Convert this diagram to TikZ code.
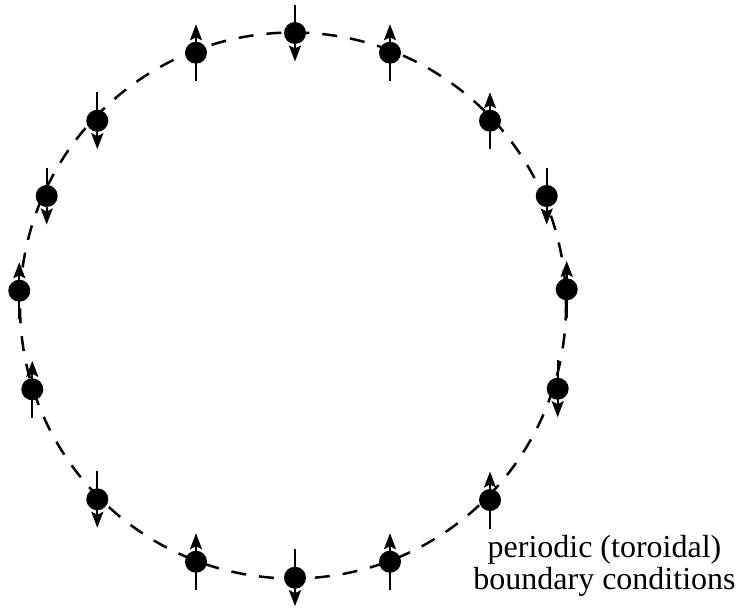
\documentclass[tikz,border=0pt]{standalone}
\usepackage{fontspec}
\setmainfont{Liberation Serif}
\usetikzlibrary{arrows.meta,calc}
\definecolor{ink}{HTML}{000000}
\tikzset{
  >={Stealth[length=16pt,width=12pt,inset=3pt]},
  every picture/.style={line join=round},
  site/.style={circle, fill=ink, draw=none, inner sep=0pt, minimum size=22pt},
  ring/.style={draw=ink, line width=2.5pt, dash pattern=on 15pt off 13pt},
  spin/.style={->, draw=ink, line width=2.2pt},
  lbl/.style={font=\fontsize{32}{32}\selectfont, text=ink, align=center, inner sep=0pt},
}

\begin{document}
\begin{tikzpicture}[x=1pt,y=-1pt]
  \useasboundingbox (0,0) rectangle (741,608);

  % ---------------- the ring ----------------
  \coordinate (c) at (293,305.5);
  \draw[ring] (c) circle[radius=273];

  % ---------------- lattice sites ----------------
  \node[site] (sp1) at (295,33) {};
  \node[site] (sp2) at (390,52.7) {};
  \node[site] (sp3) at (490,120.7) {};
  \node[site] (sp4) at (546.7,196) {};
  \node[site] (sp5) at (566.7,289.3) {};
  \node[site] (sp6) at (557.7,388.7) {};
  \node[site] (sp7) at (490,500) {};
  \node[site] (sp8) at (390,561.7) {};
  \node[site] (sp9) at (295,577.7) {};
  \node[site] (sp10) at (196,561.7) {};
  \node[site] (sp11) at (97.3,499.3) {};
  \node[site] (sp12) at (32.3,389.3) {};
  \node[site] (sp13) at (19.3,290.7) {};
  \node[site] (sp14) at (46.7,196) {};
  \node[site] (sp15) at (97.3,120.7) {};
  \node[site] (sp16) at (196,52.7) {};

  % ---------------- spins ----------------
  \draw[spin] ([yshift=28.5pt]sp1.center) -- ([yshift=-28.5pt]sp1.center);
  \draw[spin] ([yshift=-28.5pt]sp2.center) -- ([yshift=28.5pt]sp2.center);
  \draw[spin] ([yshift=-28.5pt]sp3.center) -- ([yshift=28.5pt]sp3.center);
  \draw[spin] ([yshift=28.5pt]sp4.center) -- ([yshift=-28.5pt]sp4.center);
  \draw[spin] ([yshift=-28.5pt]sp5.center) -- ([yshift=28.5pt]sp5.center);
  \draw[spin] ([yshift=28.5pt]sp6.center) -- ([yshift=-28.5pt]sp6.center);
  \draw[spin] ([yshift=-28.5pt]sp7.center) -- ([yshift=28.5pt]sp7.center);
  \draw[spin] ([yshift=-28.5pt]sp8.center) -- ([yshift=28.5pt]sp8.center);
  \draw[spin] ([yshift=28.5pt]sp9.center) -- ([yshift=-28.5pt]sp9.center);
  \draw[spin] ([yshift=-28.5pt]sp10.center) -- ([yshift=28.5pt]sp10.center);
  \draw[spin] ([yshift=28.5pt]sp11.center) -- ([yshift=-28.5pt]sp11.center);
  \draw[spin] ([yshift=-28.5pt]sp12.center) -- ([yshift=28.5pt]sp12.center);
  \draw[spin] ([yshift=-28.5pt]sp13.center) -- ([yshift=28.5pt]sp13.center);
  \draw[spin] ([yshift=28.5pt]sp14.center) -- ([yshift=-28.5pt]sp14.center);
  \draw[spin] ([yshift=28.5pt]sp15.center) -- ([yshift=-28.5pt]sp15.center);
  \draw[spin] ([yshift=-28.5pt]sp16.center) -- ([yshift=28.5pt]sp16.center);

  % ---------------- caption ----------------
  \node[lbl, anchor=south] (bc) at (604.5,597) {periodic (toroidal)\\ boundary conditions};
\end{tikzpicture}
\end{document}
